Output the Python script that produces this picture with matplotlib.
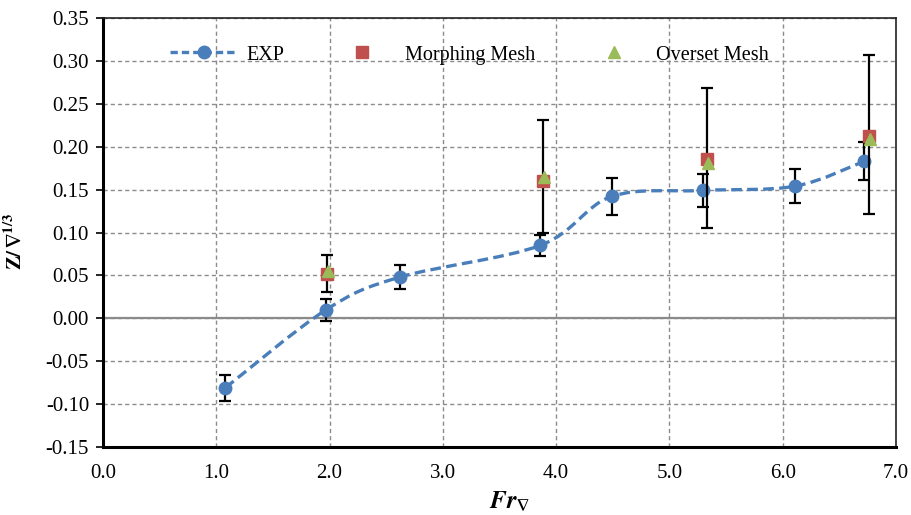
import numpy as np
import matplotlib
matplotlib.use("Agg")
import matplotlib.pyplot as plt
from matplotlib.path import Path
from matplotlib.patches import PathPatch
from matplotlib.lines import Line2D
from matplotlib.ticker import FormatStrFormatter

plt.rcParams["font.family"] = ["Liberation Serif", "DejaVu Serif"]
plt.rcParams["mathtext.fontset"] = "stix"

# Experimental heave (with uncertainty)
exp_fr = [1.08, 1.97, 2.62, 3.86, 4.49, 5.30, 6.11, 6.72]
exp_z = [-0.081, 0.010, 0.048, 0.085, 0.142, 0.149, 0.154, 0.183]
exp_err = [0.015, 0.013, 0.014, 0.012, 0.022, 0.019, 0.020, 0.022]

# CFD results
morph_fr = [1.98, 3.88, 5.33, 6.76]
morph_z = [0.052, 0.160, 0.186, 0.213]
sim_err_lo = [0.021, 0.061, 0.081, 0.092]
sim_err_hi = [0.022, 0.071, 0.082, 0.094]

over_fr = [1.99, 3.89, 5.34, 6.77]
over_z = [0.055, 0.165, 0.181, 0.209]

xticks = [0.0, 1.0, 2.0, 3.0, 4.0, 5.0, 6.0, 7.0]
yticks = [-0.15, -0.10, -0.05, 0.00, 0.05, 0.10, 0.15, 0.20, 0.25, 0.30, 0.35]

BLUE = "#4a7ebb"
RED = "#c0504d"
GREEN = "#9bbb59"
GRID = "#8c8c8c"

fig = plt.figure(figsize=(9.12, 5.15), dpi=100)
ax = fig.add_axes([103 / 912, 1 - 447 / 515, (896 - 103) / 912, (447 - 18) / 515])

ax.set_xlim(xticks[0], xticks[-1])
ax.set_ylim(yticks[0], yticks[-1])
ax.set_xticks(xticks)
ax.set_yticks(yticks)
ax.xaxis.set_major_formatter(FormatStrFormatter("%.1f"))
ax.yaxis.set_major_formatter(FormatStrFormatter("%.2f"))

ax.grid(True, color=GRID, linestyle=(0, (3.0, 2.2)), linewidth=1.0, zorder=0)
ax.axhline(0.0, color="#8a8a8a", linewidth=1.6, zorder=1)

ax.tick_params(axis="x", length=0, pad=12, labelsize=15)
ax.tick_params(axis="y", direction="out", length=5, width=1.2, pad=5, labelsize=15)

for side in ("left", "bottom"):
    ax.spines[side].set_linewidth(2.2)
    ax.spines[side].set_color("black")
for side in ("top", "right"):
    ax.spines[side].set_linewidth(1.2)
    ax.spines[side].set_color("#222222")

# Smoothed experimental trend (Catmull-Rom style Bezier through the points)
pts = np.column_stack([exp_fr, exp_z])
verts = [tuple(pts[0])]
codes = [Path.MOVETO]
n = len(pts)
for i in range(n - 1):
    p0 = pts[i - 1] if i > 0 else pts[i]
    p1 = pts[i]
    p2 = pts[i + 1]
    p3 = pts[i + 2] if i + 2 < n else pts[i + 1]
    c1 = p1 + (p2 - p0) / 6.0
    c2 = p2 - (p3 - p1) / 6.0
    verts += [tuple(c1), tuple(c2), tuple(p2)]
    codes += [Path.CURVE4] * 3
curve = PathPatch(Path(verts, codes), facecolor="none", edgecolor=BLUE,
                  linewidth=2.4, linestyle=(0, (3.2, 1.6)), zorder=3,
                  capstyle="butt")
ax.add_patch(curve)

ax.errorbar(exp_fr, exp_z, yerr=exp_err, fmt="o", color=BLUE, markersize=9,
            ecolor="black", elinewidth=1.6, capsize=4.5, capthick=1.6, zorder=4)
ax.errorbar(morph_fr, morph_z, yerr=[sim_err_lo, sim_err_hi], fmt="s",
            color=RED, markersize=8, ecolor="black", elinewidth=1.6,
            capsize=4.5, capthick=1.6, zorder=5)
ax.plot(over_fr, over_z, "^", color=GREEN, markersize=9, linestyle="none", zorder=6)

handles = [
    Line2D([], [], color=BLUE, linewidth=2.4, linestyle=(0, (2.2, 1.2)),
           marker="o", markersize=9),
    Line2D([], [], color=RED, linestyle="none", marker="s", markersize=8),
    Line2D([], [], color=GREEN, linestyle="none", marker="^", markersize=9),
]
fig.legend(handles, ["EXP", "Morphing Mesh", "Overset Mesh"], ncol=3,
           loc="center left", bbox_to_anchor=(170 / 912, 1 - 55 / 515),
           frameon=False, fontsize=14.5, handlelength=3.35, handletextpad=0.45,
           columnspacing=2.2, borderpad=0, borderaxespad=0)

ax.set_xlabel(r"$\mathbfit{Fr}_{\mathbf{\nabla}}$", fontsize=18)
ax.xaxis.set_label_coords(0.513, -0.098)
ax.set_ylabel(r"$\mathbf{Z/\,\nabla^{1/3}}$", fontsize=15)
ax.yaxis.set_label_coords(-0.097, 0.478)

fig.savefig("out.png", dpi=100)
